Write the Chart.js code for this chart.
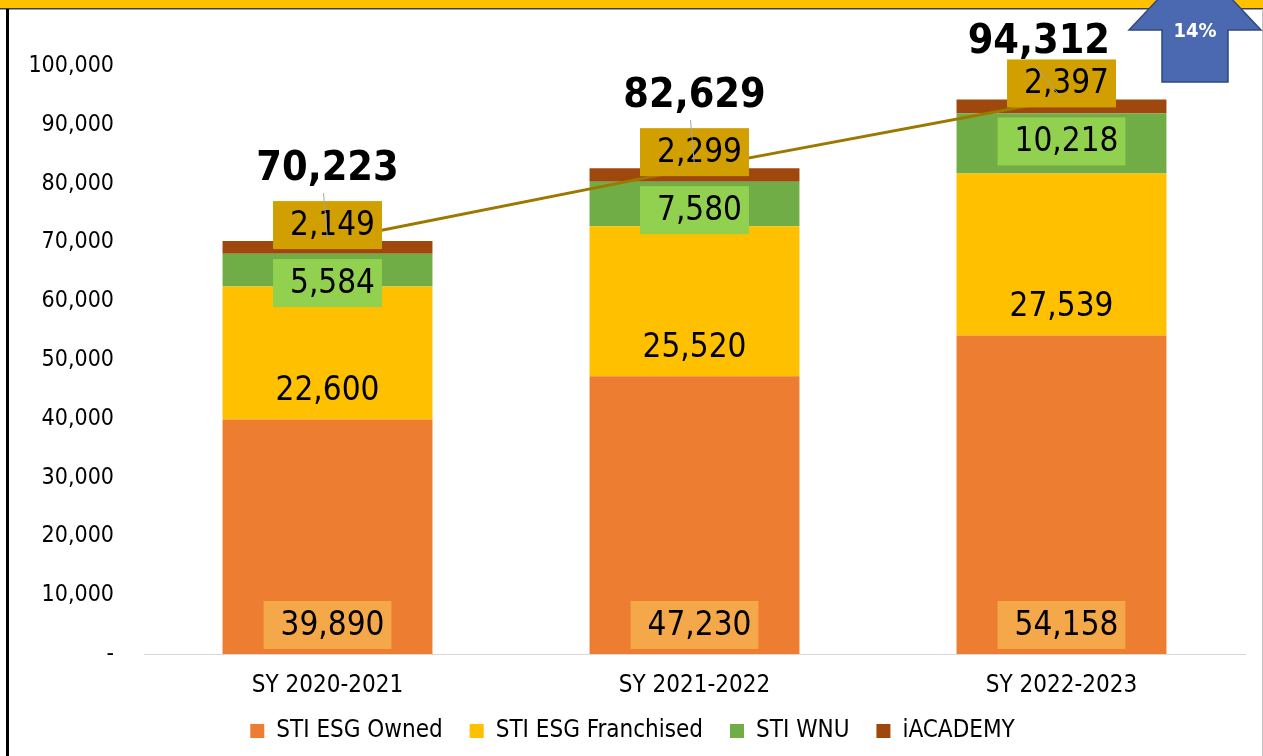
<!DOCTYPE html>
<html>
<head>
<meta charset="utf-8">
<title>STI enrollment</title>
<script src="https://cdn.jsdelivr.net/npm/chart.js@4.4.0/dist/chart.umd.min.js"></script>
<style>
  html, body { margin: 0; padding: 0; background: #fff; }
  #wrap { position: relative; width: 1263px; height: 756px; }
</style>
</head>
<body>
<div id="wrap"><canvas id="enrolChart"></canvas></div>
<script>
// podaci
const categories = ['SY 2020-2021', 'SY 2021-2022', 'SY 2022-2023'];
const esgOwned = [39890, 47230, 54158];
const esgFranchised = [22600, 25520, 27539];
const stiWnu = [5584, 7580, 10218];
const iAcademy = [2149, 2299, 2397];
const totals = [70223, 82629, 94312];
const seriesNames = ['STI ESG Owned', 'STI ESG Franchised', 'STI WNU', 'iACADEMY'];
const yMax = 100000;
const yStep = 10000;
const growthText = '14%';

const FONT = "'DejaVu Sans Condensed', 'DejaVu Sans', sans-serif";
const seriesColors = ['#ED7D31', '#FFC000', '#70AD47', '#9E480E'];
// stil oznaka za svaku seriju: gdje stoji i kakva je kutija iza broja
const labelStyle = [
    { mode: 'base', box: '#F4A84A' },
    { mode: 'base', box: null },
    { mode: 'underTop', box: '#92D050' },
    { mode: 'above', box: '#D19F00' }
];

const fmt = v => v.toLocaleString('en-US');

// okvir slajda: zuta traka gore, crna linija lijevo
const frame = {
    id: 'frame',
    beforeDraw(chart) {
        const ctx = chart.ctx;
        ctx.save();
        ctx.fillStyle = '#fff';
        ctx.fillRect(0, 0, chart.width, chart.height);
        ctx.fillStyle = '#FFC000';
        ctx.fillRect(0, 0, chart.width, 8);
        ctx.fillStyle = '#3B3F5C';
        ctx.fillRect(0, 8, chart.width, 1.5);
        ctx.fillStyle = '#000';
        ctx.fillRect(6, 9, 3, chart.height - 9);
        ctx.fillStyle = '#BFBFBF';
        ctx.fillRect(chart.width - 1, 9, 1, chart.height - 9);
        ctx.restore();
    }
};

// brojevi na stupcima i ukupni iznosi
const barLabels = {
    id: 'barLabels',
    afterDatasetsDraw(chart) {
        const ctx = chart.ctx;
        const topMeta = chart.getDatasetMeta(3);
        ctx.save();
        ctx.textBaseline = 'middle';
        ctx.textAlign = 'center';
        labelStyle.forEach((st, di) => {
            const meta = chart.getDatasetMeta(di);
            meta.data.forEach((bar, i) => {
                const v = chart.data.datasets[di].data[i];
                const txt = fmt(v);
                let cy;
                if (st.mode === 'base') cy = bar.base - 29;
                else if (st.mode === 'underTop') cy = topMeta.data[i].y + 42;
                else cy = bar.y - 16;
                ctx.font = '33px ' + FONT;
                const w = ctx.measureText(txt).width;
                if (st.box) {
                    const bw = w + 24;
                    ctx.fillStyle = st.box;
                    ctx.fillRect(bar.x - bw / 2, cy - 24, bw, 48);
                }
                ctx.fillStyle = '#000';
                ctx.fillText(txt, bar.x + (st.box ? 5 : 0), cy + 1);
            });
        });

        // ukupno iznad linije, s tankom vodilicom
        const lineMeta = chart.getDatasetMeta(4);
        const arrowLeft = chart.width - 134;
        ctx.font = 'bold 41px ' + FONT;
        lineMeta.data.forEach((pt, i) => {
            const txt = fmt(totals[i]);
            const w = ctx.measureText(txt).width;
            const cy = Math.max(pt.y - 74, 40);
            const cx = Math.min(pt.x, arrowLeft - 19 - w / 2);
            ctx.strokeStyle = '#A6A6A6';
            ctx.lineWidth = 1;
            ctx.beginPath();
            ctx.moveTo(cx - 4, cy + 26);
            ctx.lineTo(pt.x, pt.y - 2);
            ctx.stroke();
            ctx.fillStyle = '#000';
            ctx.fillText(txt, cx, cy + 2);
        });
        ctx.restore();
    },
    afterDraw(chart) {
        // plava strelica s postotkom rasta
        const ctx = chart.ctx;
        const cx = chart.width - 68, base = 82, neck = 30, half = 33, headHalf = 66;
        ctx.save();
        ctx.beginPath();
        ctx.moveTo(cx - half, base);
        ctx.lineTo(cx - half, neck);
        ctx.lineTo(cx - headHalf, neck);
        ctx.lineTo(cx, neck - 70);
        ctx.lineTo(cx + headHalf, neck);
        ctx.lineTo(cx + half, neck);
        ctx.lineTo(cx + half, base);
        ctx.closePath();
        ctx.fillStyle = '#4A69B0';
        ctx.fill();
        ctx.strokeStyle = '#2F4A7C';
        ctx.lineWidth = 1.5;
        ctx.stroke();
        ctx.fillStyle = '#fff';
        ctx.font = 'bold 20px ' + FONT;
        ctx.textAlign = 'center';
        ctx.textBaseline = 'middle';
        ctx.fillText(growthText, cx, 32);
        ctx.restore();
    }
};

const seriesData = [esgOwned, esgFranchised, stiWnu, iAcademy];
const datasets = seriesData.map((d, i) => ({
    type: 'bar',
    label: seriesNames[i],
    data: d,
    backgroundColor: seriesColors[i],
    borderWidth: 0,
    stack: 'enrol',
    order: 1,
    barPercentage: 0.572,
    categoryPercentage: 1
}));
datasets.push({
    type: 'line',
    label: 'Total',
    data: totals,
    borderColor: '#9C7800',
    borderWidth: 3,
    pointRadius: 0,
    tension: 0,
    stack: 'total',
    order: 0
});

const ctx = document.getElementById('enrolChart').getContext('2d');
const enrolChart = new Chart(ctx, {
    type: 'bar',
    data: { labels: categories, datasets: datasets },
    options: {
        responsive: true,
        maintainAspectRatio: false,
        animation: false,
        layout: { padding: { top: 66, right: 18, bottom: 3, left: 20 } },
        plugins: {
            tooltip: { enabled: false },
            legend: {
                position: 'bottom',
                labels: {
                    filter: item => item.datasetIndex < 4,
                    boxWidth: 14,
                    boxHeight: 14,
                    padding: 27,
                    color: '#000',
                    font: { family: FONT, size: 24 }
                }
            }
        },
        scales: {
            x: {
                stacked: true,
                grid: { display: false, drawTicks: false },
                border: { color: '#D9D9D9', width: 1 },
                ticks: { color: '#000', padding: 17, font: { family: FONT, size: 24 } },
                afterFit: s => { s.height = 38; }
            },
            y: {
                stacked: true,
                min: 0,
                max: yMax,
                grid: { display: false, drawTicks: false },
                border: { display: false },
                ticks: {
                    stepSize: yStep,
                    padding: 30,
                    color: '#000',
                    font: { family: FONT, size: 23 },
                    callback: v => v === 0 ? '-' : fmt(v)
                },
                afterFit: s => { s.width = 124; }
            }
        }
    },
    plugins: [frame, barLabels]
});
</script>
</body>
</html>
